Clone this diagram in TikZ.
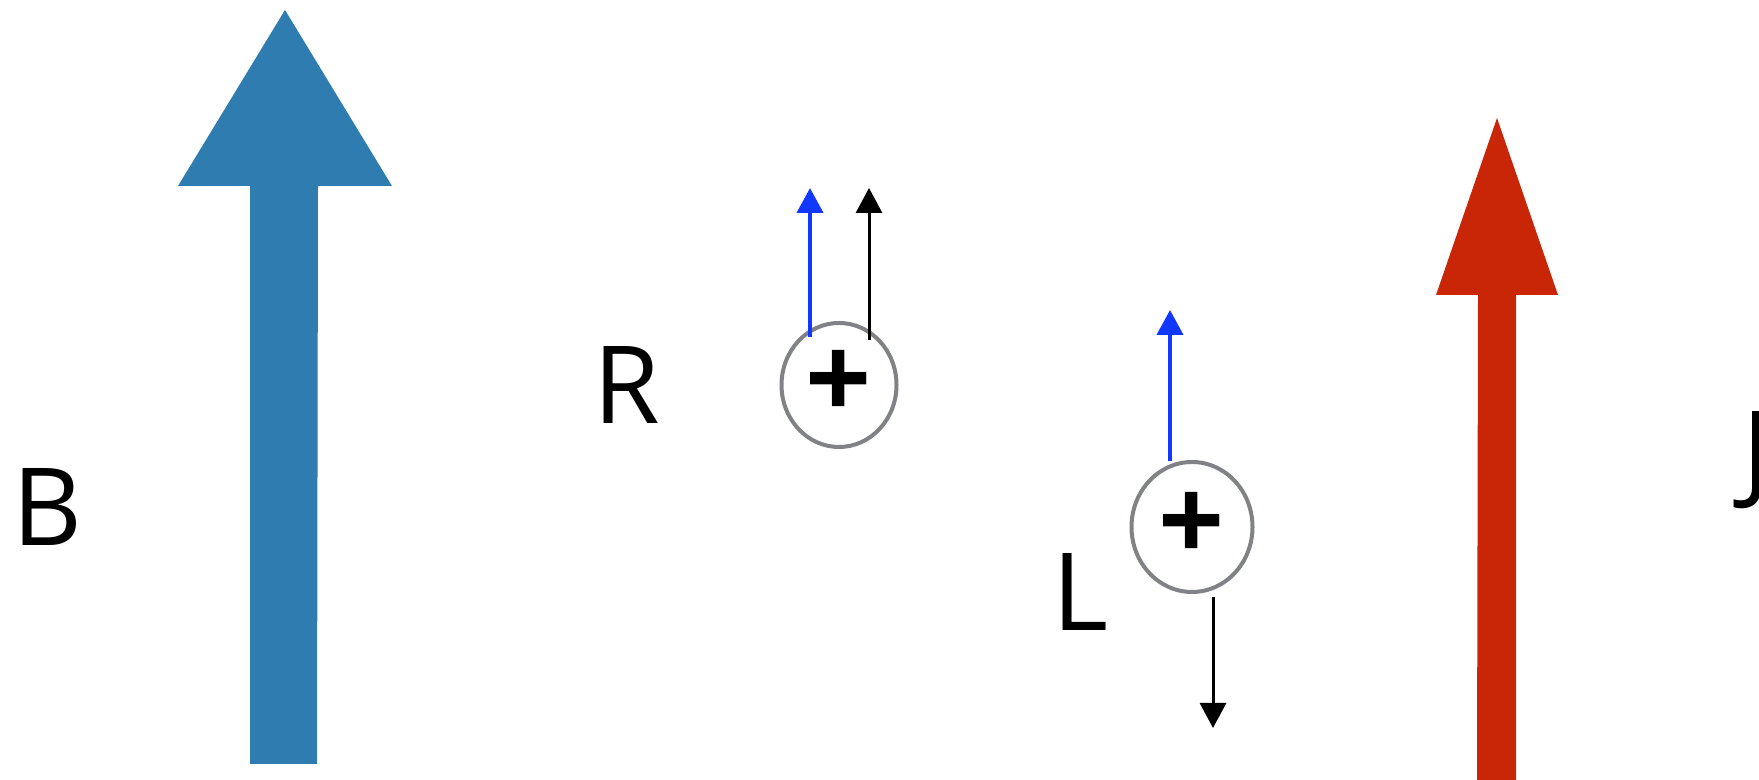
\documentclass[tikz,border=0pt]{standalone}
\usepackage{fontspec}
\setmainfont{Open Sans}
\usepackage{tikz}
\usetikzlibrary{arrows.meta,shapes.geometric}
\definecolor{Bblue}{RGB}{46,124,176}
\definecolor{Jred}{RGB}{200,38,6}
\definecolor{vblue}{RGB}{16,56,255}
\definecolor{ringgray}{RGB}{128,130,134}

\begin{document}
\begin{tikzpicture}[x=0.1mm, y=-0.1mm, >={Triangle[width=2.6mm,length=2.5mm]},
	lbl/.style={font=\fontsize{30.7}{36}\selectfont, inner sep=0pt},
	ion/.style={draw=ringgray, line width=0.4mm, ellipse, inner sep=0pt, font=\fontsize{33}{38}\selectfont\bfseries},
	vel/.style={->, line width=0.4mm, vblue},
	frc/.style={->, line width=0.3mm, black}]
		\useasboundingbox (0,0) rectangle (1759,780);
		\fill[Bblue] (250,764) -- (250,186) -- (178,186) -- (285,10) -- (392,186) -- (318,186) -- (317,764) -- cycle;
		\fill[Jred] (1477,780) -- (1478,295) -- (1436,295) -- (1497,118) -- (1558,295) -- (1516,295) -- (1516,780) -- cycle;
		\node[lbl] (B) at (47.5,506.5) {B};
		\node[lbl] (R) at (627,385.5) {R};
		\node[lbl] (L) at (1080,591.5) {L};
		\node[lbl, anchor=base west] (J) at (1742,489) {J};
		\node[ion, minimum width=11.5mm, minimum height=12.4mm] (ionR) at (839,385) {\raisebox{-0.5mm}{+}};
		\node[ion, minimum width=12.1mm, minimum height=13mm] (ionL) at (1192,527) {\raisebox{-0.5mm}{+}};
		\begin{scope}
			\path (ionR) ++(-29,-48) coordinate (vR0) ++(0,-149) coordinate (vR1);
			\path (ionR) ++(30,-45) coordinate (fR0) ++(0,-152) coordinate (fR1);
			\draw[vel] (vR0) -- (vR1);
			\draw[frc] (fR0) -- (fR1);
			\path (ionL) ++(-22,-66) coordinate (vL0) ++(0,-151) coordinate (vL1);
			\path (ionL) ++(21,70) coordinate (fL0) ++(0,131) coordinate (fL1);
			\draw[vel] (vL0) -- (vL1);
			\draw[frc] (fL0) -- (fL1);
		\end{scope}
	\end{tikzpicture}
\end{document}
